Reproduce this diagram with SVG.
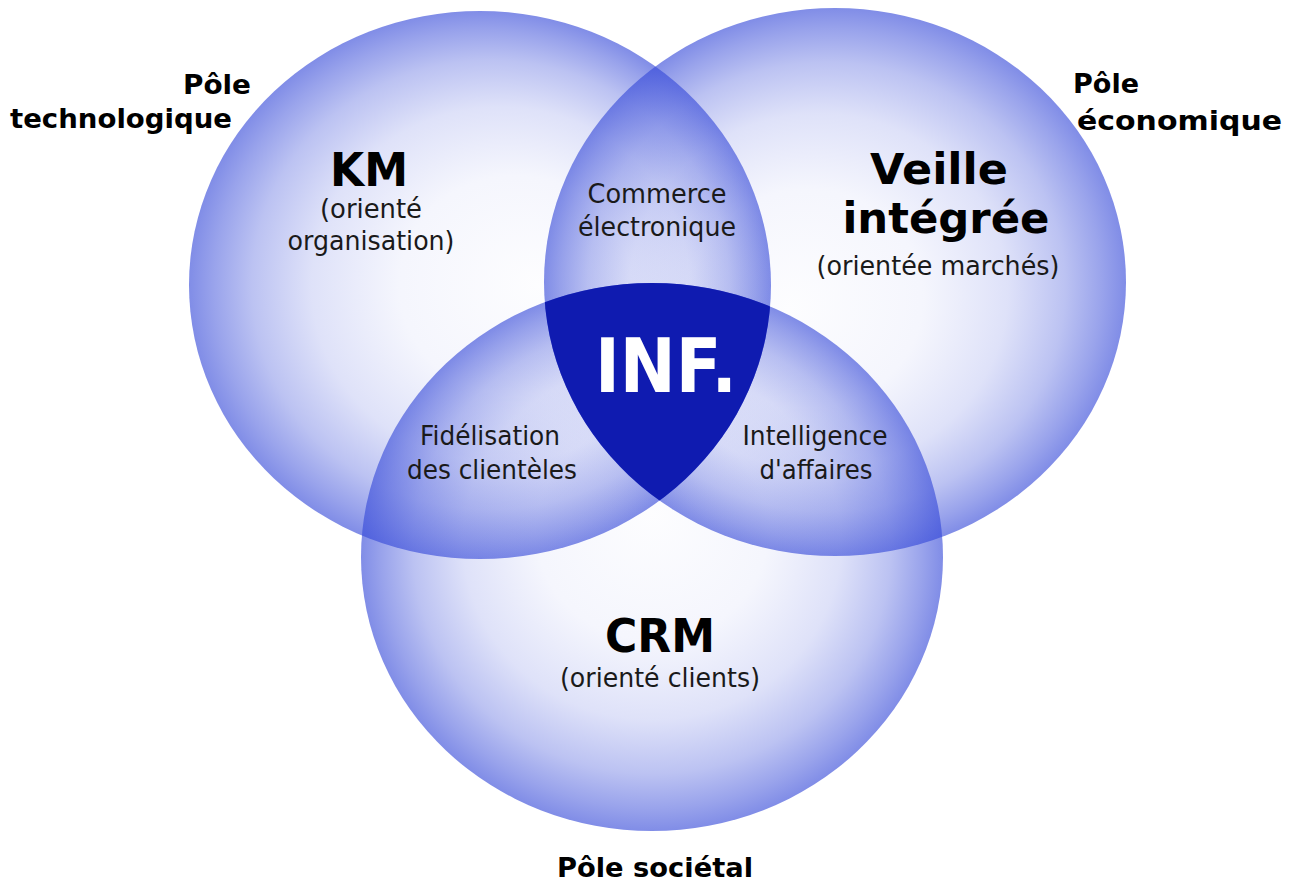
<svg xmlns="http://www.w3.org/2000/svg" width="1292" height="881" viewBox="0 0 1292 881">
  <style>
    .pole { font-family: "DejaVu Sans", "Liberation Sans", sans-serif; font-weight: bold; font-size: 27px; fill: #000; }
    .title { font-family: "DejaVu Sans", "Liberation Sans", sans-serif; font-weight: bold; font-size: 46px; fill: #000; text-anchor: middle; }
    .title2 { font-family: "DejaVu Sans", "Liberation Sans", sans-serif; font-weight: bold; font-size: 42px; fill: #000; text-anchor: middle; }
    .sub { font-family: "DejaVu Sans", "Liberation Sans", sans-serif; font-size: 26px; fill: #1a1a1a; text-anchor: middle; }
    .inf { font-family: "DejaVu Sans", "Liberation Sans", sans-serif; font-weight: bold; font-size: 74px; fill: #fff; text-anchor: middle; }
  </style>
  <defs>
    <radialGradient id="gL" cx="0.5" cy="0.5" r="0.5" fx="0.6" fy="0.5">
      <stop offset="0" stop-color="#3347d8" stop-opacity="0.01"/>
      <stop offset="0.4" stop-color="#3347d8" stop-opacity="0.05"/>
      <stop offset="0.65" stop-color="#3347d8" stop-opacity="0.16"/>
      <stop offset="0.82" stop-color="#3347d8" stop-opacity="0.33"/>
      <stop offset="0.93" stop-color="#3347d8" stop-opacity="0.5"/>
      <stop offset="1" stop-color="#3347d8" stop-opacity="0.62"/>
    </radialGradient>
    <radialGradient id="gR" cx="0.5" cy="0.5" r="0.5" fx="0.42" fy="0.55">
      <stop offset="0" stop-color="#3347d8" stop-opacity="0.01"/>
      <stop offset="0.4" stop-color="#3347d8" stop-opacity="0.05"/>
      <stop offset="0.65" stop-color="#3347d8" stop-opacity="0.16"/>
      <stop offset="0.82" stop-color="#3347d8" stop-opacity="0.33"/>
      <stop offset="0.93" stop-color="#3347d8" stop-opacity="0.5"/>
      <stop offset="1" stop-color="#3347d8" stop-opacity="0.62"/>
    </radialGradient>
    <radialGradient id="gB" cx="0.5" cy="0.5" r="0.5" fx="0.5" fy="0.42">
      <stop offset="0" stop-color="#3347d8" stop-opacity="0.01"/>
      <stop offset="0.4" stop-color="#3347d8" stop-opacity="0.05"/>
      <stop offset="0.65" stop-color="#3347d8" stop-opacity="0.16"/>
      <stop offset="0.82" stop-color="#3347d8" stop-opacity="0.33"/>
      <stop offset="0.93" stop-color="#3347d8" stop-opacity="0.5"/>
      <stop offset="1" stop-color="#3347d8" stop-opacity="0.62"/>
    </radialGradient>
    <clipPath id="clipL"><ellipse cx="480" cy="285" rx="291" ry="274"/></clipPath>
    <clipPath id="clipR"><ellipse cx="835" cy="282" rx="291" ry="274"/></clipPath>
  </defs>
  <rect width="1292" height="881" fill="#fff"/>

  <g id="circle-km">
    <ellipse cx="480" cy="285" rx="291" ry="274" fill="url(#gL)"/>
  </g>
  <g id="circle-veille">
    <ellipse cx="835" cy="282" rx="291" ry="274" fill="url(#gR)"/>
  </g>
  <g id="circle-crm">
    <ellipse cx="652" cy="557" rx="291" ry="274" fill="url(#gB)"/>
  </g>
  <g id="inf">
    <g clip-path="url(#clipL)">
      <g clip-path="url(#clipR)">
        <ellipse cx="652" cy="557" rx="291" ry="274" fill="#0f1bb0"/>
      </g>
    </g>
    <text class="inf" x="666" y="392" textLength="142" lengthAdjust="spacingAndGlyphs">INF.</text>
  </g>

  <g id="label-km">
    <text class="title" x="369" y="186" textLength="78" lengthAdjust="spacingAndGlyphs">KM</text>
    <text class="sub" x="371" y="218" textLength="102" lengthAdjust="spacingAndGlyphs">(orienté</text>
    <text class="sub" x="371" y="250" textLength="167" lengthAdjust="spacingAndGlyphs">organisation)</text>
  </g>
  <g id="label-commerce">
    <text class="sub" x="657" y="203" textLength="139" lengthAdjust="spacingAndGlyphs">Commerce</text>
    <text class="sub" x="657" y="236" textLength="158" lengthAdjust="spacingAndGlyphs">électronique</text>
  </g>
  <g id="label-veille">
    <text class="title2" x="939" y="184" textLength="138" lengthAdjust="spacingAndGlyphs">Veille</text>
    <text class="title2" x="946" y="233" textLength="207" lengthAdjust="spacingAndGlyphs">intégrée</text>
    <text class="sub" x="938" y="275" textLength="243" lengthAdjust="spacingAndGlyphs">(orientée marchés)</text>
  </g>
  <g id="label-fidelisation">
    <text class="sub" x="490" y="445" textLength="140" lengthAdjust="spacingAndGlyphs">Fidélisation</text>
    <text class="sub" x="492" y="479" textLength="170" lengthAdjust="spacingAndGlyphs">des clientèles</text>
  </g>
  <g id="label-intelligence">
    <text class="sub" x="815" y="445" textLength="145" lengthAdjust="spacingAndGlyphs">Intelligence</text>
    <text class="sub" x="816" y="479" textLength="113" lengthAdjust="spacingAndGlyphs">d'affaires</text>
  </g>
  <g id="label-crm">
    <text class="title" x="660" y="652" textLength="110" lengthAdjust="spacingAndGlyphs">CRM</text>
    <text class="sub" x="660" y="687" textLength="200" lengthAdjust="spacingAndGlyphs">(orienté clients)</text>
  </g>

  <g id="pole-technologique">
    <text class="pole" x="183" y="94" textLength="68" lengthAdjust="spacingAndGlyphs">Pôle</text>
    <text class="pole" x="10" y="128" textLength="222" lengthAdjust="spacingAndGlyphs">technologique</text>
  </g>
  <g id="pole-economique">
    <text class="pole" x="1073" y="93" textLength="66" lengthAdjust="spacingAndGlyphs">Pôle</text>
    <text class="pole" x="1077" y="130" textLength="205" lengthAdjust="spacingAndGlyphs">économique</text>
  </g>
  <g id="pole-societal">
    <text class="pole" x="557" y="877" textLength="196" lengthAdjust="spacingAndGlyphs">Pôle sociétal</text>
  </g>

  <g id="connectors"/>
</svg>
